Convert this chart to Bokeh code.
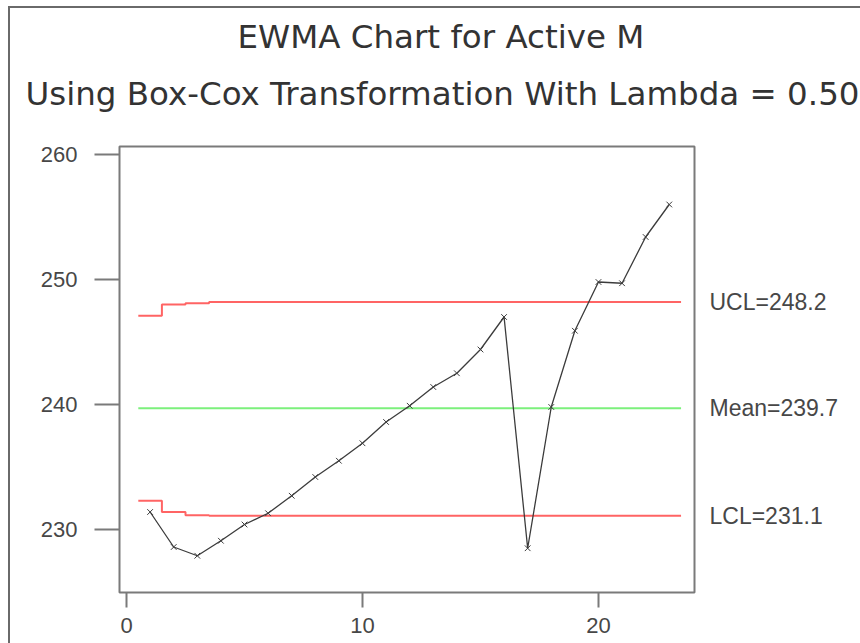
from bokeh.plotting import figure
from bokeh.models import Title, Range1d, FixedTicker, LinearAxis
from bokeh.embed import file_html
from bokeh.resources import INLINE

# ---- data ----
samples = list(range(1, 24))
ewma = [231.4, 228.6, 227.9, 229.1, 230.4, 231.3, 232.7, 234.2, 235.5, 236.9,
        238.6, 239.9, 241.4, 242.5, 244.4, 247.0, 228.5, 239.8, 245.9, 249.8,
        249.7, 253.4, 256.0]
ucl = [247.1, 248.0, 248.1] + [248.2] * 20
lcl = [232.3, 231.4, 231.15] + [231.1] * 20
mean = 239.7
limit_names = ["LCL", "Mean", "UCL"]
limit_values = [231.1, 239.7, 248.2]
x_ticks = [0, 10, 20]
y_ticks = [230, 240, 250, 260]
title1 = "EWMA Chart for Active M"
title2 = "Using Box-Cox Transformation With Lambda = 0.50"

TEXT = "#474747"
AX = "#7a7a7a"
BORDER = "#6a6a6a"

p = figure(width=860, height=643, output_backend="svg", toolbar_location=None,
           x_range=Range1d(-0.297, 24.07), y_range=Range1d(224.96, 260.64),
           min_border_left=119, min_border_right=166,
           min_border_top=146, min_border_bottom=51)
p.background_fill_color = "white"
p.border_fill_color = None
p.styles = {
    "background-color": "white",
    "background-image": f"linear-gradient({BORDER},{BORDER}), linear-gradient({BORDER},{BORDER})",
    "background-size": "2px 100%, 100% 2px",
    "background-position": "8px 6px, 8px 6px",
    "background-repeat": "no-repeat",
}
p.outline_line_color = AX
p.outline_line_width = 2
p.xgrid.visible = False
p.ygrid.visible = False

for ax in (p.xaxis[0], p.yaxis[0]):
    ax.axis_line_color = None
    ax.major_tick_line_color = AX
    ax.major_tick_line_width = 2
    ax.minor_tick_line_color = None
    ax.major_tick_in = 0
    ax.major_label_text_font = "Liberation Sans"
    ax.major_label_text_font_size = "22px"
    ax.major_label_text_color = TEXT

p.xaxis.ticker = FixedTicker(ticks=x_ticks)
p.yaxis.ticker = FixedTicker(ticks=y_ticks)
p.xaxis.major_tick_out = 15
p.xaxis.major_label_standoff = 10
p.yaxis.major_tick_out = 25
p.yaxis.major_label_standoff = 17

# right-hand labels for the limit lines
rax = LinearAxis(ticker=FixedTicker(ticks=limit_values),
                 major_label_overrides={v: f"{n}={v}" for n, v in zip(limit_names, limit_values)})
rax.axis_line_color = None
rax.major_tick_line_color = None
rax.minor_tick_line_color = None
rax.major_tick_in = 0
rax.major_tick_out = 0
rax.major_label_standoff = 15
rax.major_label_text_font = "Liberation Sans"
rax.major_label_text_font_size = "23px"
rax.major_label_text_color = TEXT
p.add_layout(rax, "right")

# step-style control limits centred on each sample
def centred_steps(xs, ys):
    sx, sy = [], []
    for xv, yv in zip(xs, ys):
        sx += [xv - 0.5, xv + 0.5]
        sy += [yv, yv]
    return sx, sy

ux, uy = centred_steps(samples, ucl)
lx, ly = centred_steps(samples, lcl)
p.line(ux, uy, line_color="#ff6464", line_width=2)
p.line(lx, ly, line_color="#ff6464", line_width=2)
p.line([samples[0] - 0.5, samples[-1] + 0.5], [mean, mean], line_color="#7cf07c", line_width=2)

p.line(samples, ewma, line_color="#3c3c3c", line_width=1.3)
p.scatter(samples, ewma, marker="x", size=8, line_color="#3c3c3c", line_width=1)

# titles: an invisible spacer next to the plot, then the two title lines
spacer = Title(text=" ", text_font_size="2px", standoff=13)
t2 = Title(text=title2, align="left", text_font="DejaVu Sans", text_font_size="32.5px",
           text_font_style="normal", text_color="#333333", offset=-94, standoff=34)
t1 = Title(text=title1, align="left", text_font="DejaVu Sans", text_font_size="32.5px",
           text_font_style="normal", text_color="#333333", offset=118, standoff=0)
p.add_layout(spacer, "above")
p.add_layout(t2, "above")
p.add_layout(t1, "above")

open("out.html", "w").write(file_html(p, INLINE))
